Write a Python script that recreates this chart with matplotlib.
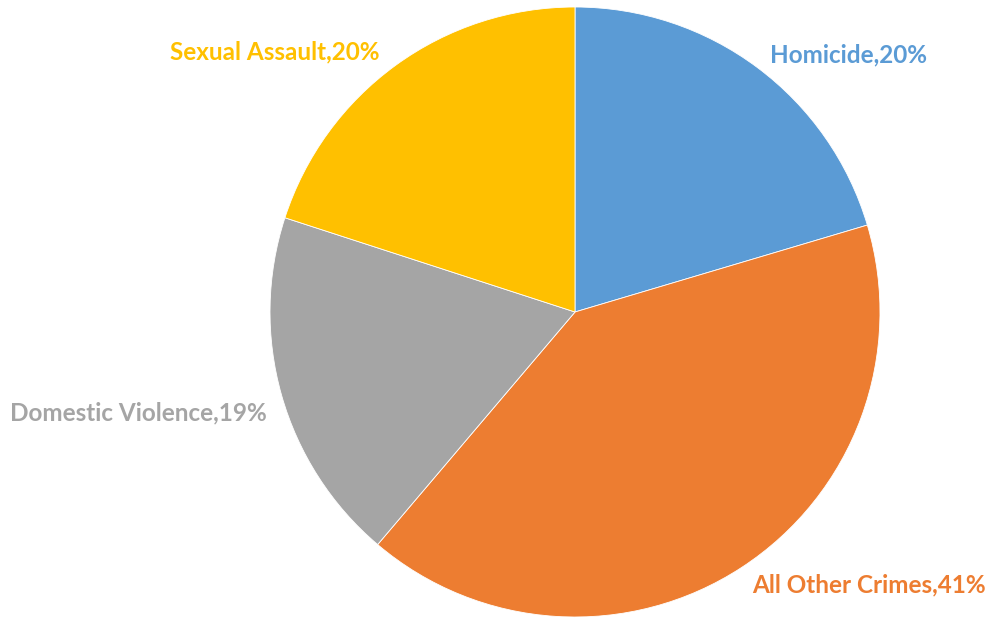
import matplotlib.pyplot as plt

# Share of cases by crime type
categories = ["Homicide", "All Other Crimes", "Domestic Violence", "Sexual Assault"]
shares = [20.4, 40.8, 18.8, 20.0]
pct_labels = ["20%", "41%", "19%", "20%"]
colors = ["#5B9BD5", "#ED7D31", "#A5A5A5", "#FFC000"]

W, H = 995, 622
fig = plt.figure(figsize=(W / 100, H / 100), dpi=100)
ax = fig.add_axes([0, 0, 1, 1])

ax.pie(shares, colors=colors, startangle=90, counterclock=False,
       center=(575, H - 312), radius=305,
       wedgeprops=dict(linewidth=0.6, edgecolor="white"))

# pie() resets the limits, so set them afterwards (pixel units)
ax.set_xlim(0, W)
ax.set_ylim(0, H)
ax.set_aspect("equal")
ax.axis("off")

# label anchors (left edge, vertical centre), in pixels from top-left
label_pos = [(770, 55), (752, 585), (10, 413), (170, 52)]
for name, pct, col, (x, y) in zip(categories, pct_labels, colors, label_pos):
    ax.text(x, H - y, f"{name},{pct}", color=col, fontsize=17.5,
            fontweight="bold", family="Lato", ha="left", va="center")

fig.savefig("out.png", dpi=100)
